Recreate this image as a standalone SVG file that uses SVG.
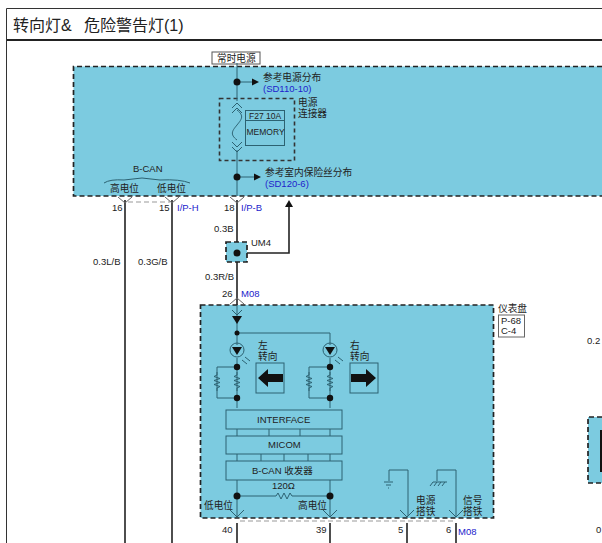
<svg xmlns="http://www.w3.org/2000/svg" width="602" height="543" viewBox="0 0 602 543">
<style>
text{font-family:"Liberation Sans","Noto Sans CJK SC",sans-serif;fill:#222;font-size:9.500px}
.cj{font-size:9.700px}
.b{fill:#2222cc}
.panel{fill:#7ccbe0;stroke:#222;stroke-width:1.700;stroke-dasharray:5 3}
.w{fill:none;stroke:#222;stroke-width:1.600}
.t{fill:none;stroke:#2c6272;stroke-width:1}
.box{fill:#7ccbe0;stroke:#2c6272;stroke-width:1}
.g{fill:none;stroke:#999;stroke-width:1.200;stroke-dasharray:5 3}
.d{fill:#111}
</style>
<defs>
<marker id="a" markerUnits="userSpaceOnUse" markerWidth="8" markerHeight="8" refX="1" refY="4" orient="auto"><path d="M0 0.500L7 4L0 7.500Z" fill="#111"/></marker>
<g id="res"><path d="M0 0v3l-3 1.500 6 2-6 2 6 2-6 2 6 2-3 1.500v3" fill="none" stroke="#2c6272"/></g>
<g id="vin"><path d="M-7 -7L0 0L7 -7" fill="none" stroke="#2c6272"/></g>
</defs>
<rect width="602" height="543" fill="#fff"/>
<g id="frame"><path d="M602 8.500H6.500V543" fill="none" stroke="#333"/><path d="M7 40H602" stroke="#222" stroke-width="2"/>
<text x="13" y="31" style="font-size:16px">转向灯&amp;</text><text x="84" y="31" style="font-size:16px">危险警告灯(1)</text></g>
<g id="power-panel"><path class="panel" d="M602 66.500H73.500V196H602"/>
<rect x="212" y="52" width="48" height="12" fill="#fff" stroke="#555"/><text class="cj" x="217" y="62">常时电源</text>
<text class="cj" x="263" y="81">参考电源分布</text><text class="b" x="263" y="91.500">(SD110-10)</text>
<text class="cj" x="298" y="106">电源</text><text class="cj" x="298" y="117">连接器</text>
<text class="cj" x="265" y="176">参考室内保险丝分布</text><text class="b" x="265" y="186.500">(SD120-6)</text>
<text x="133" y="172">B-CAN</text><text class="cj" x="110" y="192">高电位</text><text class="cj" x="157" y="192">低电位</text>
<path d="M104 183q6-4 20-3 l18-2 l18 2q20-1 30 3" fill="none" stroke="#2c6272"/></g>
<g id="fuse"><rect x="219.500" y="98.500" width="75" height="62" fill="none" stroke="#333" stroke-width="1.600" stroke-dasharray="4 3"/>
<rect x="245.500" y="110.500" width="39" height="35" fill="none" stroke="#2c6272"/><path d="M245.500 120.500h39" stroke="#2c6272"/>
<text x="249" y="119" style="font-size:8.500px">F27 10A</text><text x="246.500" y="135" style="font-size:8.500px">MEMORY</text>
<path d="M237 110c8 6 4 10 0 15s-8 9 0 15" class="t"/>
<path class="t" d="M232 108l5-5 5 5M232 113l5-5 5 5M232 142l5 5 5-5M232 147l5 5 5-5"/></g>
<g id="connectors">
<path class="t" d="M237 63V101M237 150V196"/>
<path class="w" d="M237 200V305M125 200V543M172 200V543M237 253H289V207"/>
<path d="M285 207L289 200L293 207Z" class="d"/>
<path class="t" d="M237 82H253" marker-end="url(#a)"/><path class="t" d="M237 177H255" marker-end="url(#a)"/>
<path class="g" d="M128 202H170M240 521H453"/>
<path class="w" d="M237 523V543M330 523V543M407 523V543M456 523V543"/>
<circle class="d" cx="237" cy="82" r="3.500"/><circle class="d" cx="237" cy="177" r="3.500"/>
<g fill="none" stroke="#666"><path d="M118 197l7 6 7-6M165 197l7 6 7-6M230 197l7 6 7-6M230 304l7-6 7 6"/></g>
</g>
<g id="labels"><text x="112" y="211">16</text><text x="159" y="211">15</text><text class="b" x="177" y="211">I/P-H</text><text x="224" y="211">18</text><text class="b" x="241" y="211">I/P-B</text>
<text x="214" y="232">0.3B</text><text x="93" y="265">0.3L/B</text><text x="138" y="265">0.3G/B</text><text x="205" y="280">0.3R/B</text><text x="222" y="297">26</text><text class="b" x="241" y="297">M08</text>
<text x="587" y="344">0.2</text><text x="596" y="533">0</text>
<text x="222" y="533">40</text><text x="316" y="533">39</text><text x="398" y="533">5</text><text x="446" y="533">6</text><text class="b" x="458" y="535">M08</text></g>
<g id="um4"><rect class="panel" x="226" y="242" width="21" height="20" stroke-dasharray="3 2"/><circle class="d" cx="237" cy="253" r="3.500"/><text x="251" y="246">UM4</text></g>
<g id="cluster"><rect class="panel" x="200.500" y="305" width="293" height="213"/>
<text class="cj" x="498" y="312">仪表盘</text><rect x="498.500" y="315" width="26" height="22" fill="#fff" stroke="#666"/><text x="501" y="324">P-68</text><text x="501" y="334">C-4</text>
<path class="t" d="M237 306V345M237 333H330V345M237 358V408M330 358V408M232 310l5 5 5-5"/>
<path class="d" d="M232 316h10l-5 8zM232 347h10l-5 8zM325 347h10l-5 8z"/>
<circle class="t" cx="237" cy="350" r="7"/><circle class="t" cx="330" cy="350" r="7"/>
<circle class="d" cx="237" cy="333" r="2.500"/>
<path class="t" d="M245 357l5 4M242 360l5 4M338 357l5 4M335 360l5 4"/>
<text class="cj" x="258" y="349">左</text><text class="cj" x="258" y="360">转向</text><text class="cj" x="350" y="349">右</text><text class="cj" x="350" y="360">转向</text>
<rect class="box" x="256" y="363" width="28" height="30"/><rect class="box" x="350" y="363" width="28" height="30"/>
<path class="d" d="M258 378l10-9v5h15v8h-15v5zM376 378l-10-9v5h-15v8h15v5z"/>
<g id="res-l"><path class="t" d="M237 367H217V398H237"/><use href="#res" x="217" y="372"/><use href="#res" x="237" y="372"/></g>
<g id="res-r"><path class="t" d="M330 367H309V398H330"/><use href="#res" x="309" y="372"/><use href="#res" x="330" y="372"/></g>
<circle class="d" cx="237" cy="367" r="3.200"/><circle class="d" cx="237" cy="398" r="3.200"/><circle class="d" cx="330" cy="367" r="3.200"/><circle class="d" cx="330" cy="398" r="3.200"/>
<path class="t" d="M237 429v7M269 429v7M300 429v7M330 429v7M237 454v7M261 454v7M284 454v7M308 454v7M330 454v7M237 480V516M330 480V516"/>
<rect class="box" x="226" y="410" width="116" height="19"/><rect class="box" x="226" y="436" width="116" height="18"/><rect class="box" x="226" y="461" width="116" height="19"/>
<text x="257" y="423">INTERFACE</text><text x="268" y="448">MICOM</text><text x="252" y="474">B-CAN 收发器</text>
<path class="t" d="M237 496H276l2-3 3 6 3-6 3 6 3-6 2 3H330"/><circle class="d" cx="237" cy="496" r="3.500"/><circle class="d" cx="330" cy="496" r="3.500"/>
<text x="272" y="489">120Ω</text><text class="cj" x="204" y="509">低电位</text><text class="cj" x="298" y="509">高电位</text>
<path class="t" d="M408 516V470H389V481M456 516V470H437V481"/>
<path class="t" d="M384 482h9M386 485h5M388 488h1M433 482h14M433 482l-3 4M437 482l-3 4M441 482l-3 4M445 482l-3 4"/>
<text class="cj" x="416" y="504">电源</text><text class="cj" x="416" y="515">搭铁</text><text class="cj" x="463" y="504">信号</text><text class="cj" x="463" y="515">搭铁</text>
<use href="#vin" x="237" y="517"/><use href="#vin" x="330" y="517"/><use href="#vin" x="407" y="517"/><use href="#vin" x="456" y="517"/>
</g>
<g id="right-box"><path class="panel" d="M602 417H588V483H602"/><rect x="600" y="430" width="2" height="42" fill="#111"/></g>
</svg>
